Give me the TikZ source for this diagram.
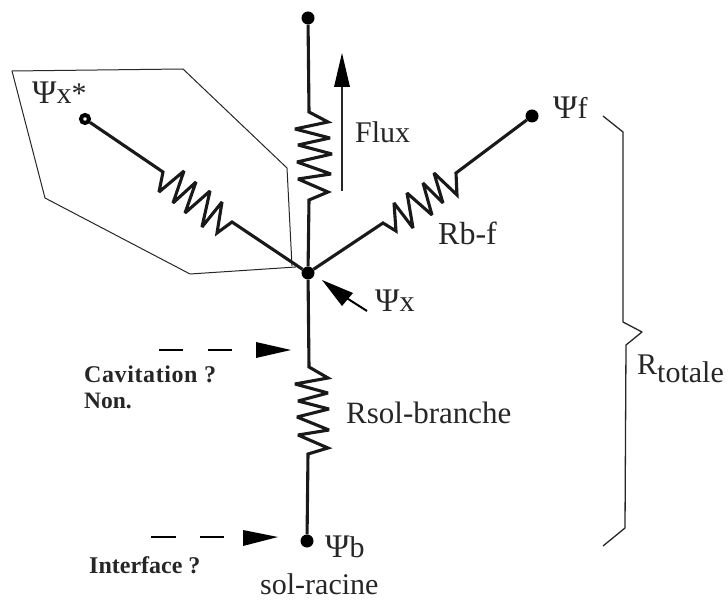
\documentclass[tikz,border=0pt]{standalone}
\usepackage{fontspec}
\setmainfont{Liberation Serif}
\newcommand{\bigpsi}{{\fontsize{33}{34}\selectfont Ψ}}
\tikzset{
 wire/.style={line width=3.1pt,line join=miter,miter limit=3,black!90},
 thin line/.style={line width=1pt,black!85},
 dotn/.style={circle,fill=black,inner sep=0pt,minimum size=13pt},
 headn/.style={fill=black,line width=0pt},
 lab/.style={inner sep=0pt,font=\fontsize{30}{32}\selectfont,text=black!85},
 psilab/.style={inner sep=0pt,font=\fontsize{30}{32}\selectfont,text=black!85},
 blab/.style={inner sep=0pt,font=\fontsize{23.5}{26}\selectfont\bfseries,text=black!85},
}
\begin{document}
\begin{tikzpicture}[x=1pt,y=-1pt]
\useasboundingbox (0,0) rectangle (728,601);
% nodes
\node[dotn] (top) at (308,18) {};
\node[dotn] (j) at (308,273) {};
\node[dotn] (f) at (532,116) {};
\node[dotn] (b) at (307,541) {};
\node[circle,draw=black,line width=4pt,fill=white,minimum size=8pt,inner sep=0pt] (xs) at (85,119) {};
% polygon
\draw[thin line,line join=round] (12,71) -- (183,69) -- (287,168) -- (292,266);
\draw[thin line,line join=round] (12,71) -- (45,198) -- (190,274) -- (296,267);
% resistors
\draw[wire] (top) -- (309,112) -- (328,122) -- (295,129) -- (330,138) -- (298,145) -- (332,154) -- (297,162) -- (331,174) -- (298,179) -- (328,192) -- (309,200) -- (j);
\draw[wire] (xs) -- (163,172) -- (159,192) -- (184,171) -- (173,203) -- (196,182) -- (185,213) -- (210,191) -- (202,227) -- (222,202) -- (217,233) -- (232,222) -- (j);
\draw[wire] (j) -- (383,223) -- (396,231) -- (394,203) -- (413,228) -- (407,193) -- (432,215) -- (423,183) -- (443,203) -- (434,173) -- (457,195) -- (456,173) -- (f);
\draw[wire] (j) -- (309,367) -- (328,378) -- (295,384) -- (328,393) -- (298,401) -- (329,409) -- (297,417) -- (329,430) -- (298,435) -- (328,448) -- (308,454) -- (b);
% flux arrow
\coordinate (fa) at (342,191);
\coordinate (fb) at (342,86);
\draw[line width=1.2pt,black!85] (fa) -- (fb);
\fill[headn] (342,53) -- (334,87) -- (350,87) -- cycle;
% psi x arrow
\coordinate (xa) at (367,311);
\coordinate (xb) at (345,297);
\draw[line width=2pt] (xa) -- (xb);
\fill[headn] (322,280) -- (353,293) -- (342,306) -- cycle;
% dashed arrows
\coordinate (ca) at (159,350);
\coordinate (cb) at (232,350);
\draw[line width=1.6pt,dash pattern=on 24pt off 25pt] (ca) -- (cb);
\fill[headn] (291,350) -- (256,342) -- (256,358) -- cycle;
\coordinate (ia) at (151,537);
\coordinate (ib) at (224,537);
\draw[line width=1.6pt,dash pattern=on 25pt off 24pt] (ia) -- (ib);
\fill[headn] (278,537) -- (243,530) -- (243,546) -- cycle;
% brace
\coordinate (ba) at (603,116);
\draw[thin line,line width=1.3pt,line join=round] (ba) -- (623,132) -- (623,322) -- (642,332) -- (626,345) -- (625,528) -- (603,546);
% labels
\node[psilab,anchor=base west] (l1) at (32,104) {\bigpsi x*};
\node[lab,anchor=base west] (l2) at (355,143) {Flux};
\node[psilab,anchor=base west] (l3) at (553,119) {\bigpsi f};
\node[lab,anchor=base west,font=\fontsize{32}{34}\selectfont] (l4) at (438,245) {Rb-f};
\node[psilab,anchor=base west] (l5) at (375,312) {\bigpsi x};
\node[lab,anchor=base west,font=\fontsize{31}{34}\selectfont] (l6) at (346,423) {Rsol-branche};
\node[psilab,anchor=base west] (l7) at (325,557) {\bigpsi b};
\node[lab,anchor=base west] (l8) at (260,594.5) {sol-racine};
\node[lab,anchor=base west] (l9) at (637,374) {R\raisebox{-9pt}{totale}};
\node[blab,anchor=base west,font=\fontsize{24}{26}\selectfont\bfseries\addfontfeature{LetterSpace=2.5}] (l10) at (84,382) {Cavitation ?};
\node[blab,anchor=base west] (l10b) at (84,408) {Non.};
\node[blab,anchor=base west,font=\fontsize{24}{26}\selectfont\bfseries] (l11) at (89,573) {Interface ?};
\end{tikzpicture}
\end{document}
